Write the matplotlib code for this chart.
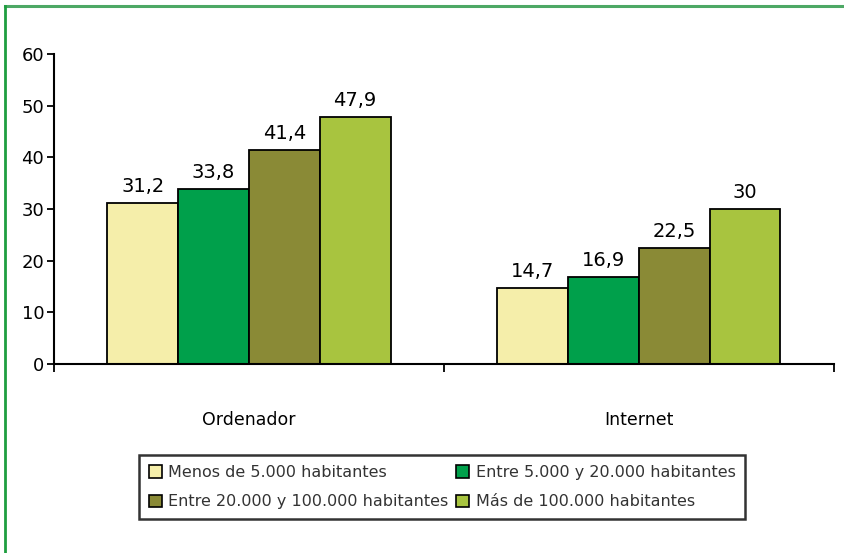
import numpy as np
import matplotlib.pyplot as plt
from matplotlib.patches import Patch
from matplotlib.lines import Line2D

# datos
categorias = ['Ordenador', 'Internet']
series = ['Menos de 5.000 habitantes', 'Entre 5.000 y 20.000 habitantes',
          'Entre 20.000 y 100.000 habitantes', 'Más de 100.000 habitantes']
menos_5000 = [31.2, 14.7]
de_5000_a_20000 = [33.8, 16.9]
de_20000_a_100000 = [41.4, 22.5]
mas_100000 = [47.9, 30]
etiquetas = [['31,2', '14,7'], ['33,8', '16,9'], ['41,4', '22,5'], ['47,9', '30']]

colores = ['#F5EEAA', '#00A04B', '#8A8A36', '#A8C43F']
valores = [menos_5000, de_5000_a_20000, de_20000_a_100000, mas_100000]

fig = plt.figure(figsize=(8.44, 5.53), dpi=100)
ax = fig.add_axes([0.064, 0.342, 0.924, 0.560])

ancho = 0.1815
x = np.arange(len(categorias)) + 0.5
for i, (v, c) in enumerate(zip(valores, colores)):
    pos = x + (i - 1.5) * ancho
    ax.bar(pos, v, width=ancho, color=c, edgecolor='black', linewidth=1.3, zorder=2)
    for p, val, txt in zip(pos, v, etiquetas[i]):
        ax.annotate(txt, (p, val), xytext=(0, 5), textcoords='offset points',
                    ha='center', va='bottom', fontsize=14)

ax.set_xlim(0, 2)
ax.set_ylim(0, 60)
ax.set_yticks(range(0, 61, 10))
ax.tick_params(axis='y', labelsize=13, length=5, width=1.3, direction='out', pad=2)

# marcas entre grupos y nombres de categoría
ax.set_xticks([0, 1, 2])
ax.set_xticklabels([])
ax.tick_params(axis='x', which='major', length=6, width=1.3, direction='out')
ax.set_xticks(x, categorias, minor=True)
ax.tick_params(axis='x', which='minor', length=0, pad=34, labelsize=12.5)

for s in ['top', 'right']:
    ax.spines[s].set_visible(False)
for s in ['left', 'bottom']:
    ax.spines[s].set_linewidth(1.5)

# leyenda en dos columnas, ordenada por filas
orden = [0, 2, 1, 3]
handles = [Patch(facecolor=colores[k], edgecolor='black', linewidth=1.2) for k in orden]
textos = [series[k] for k in orden]
leg = fig.legend(handles, textos, loc='center', bbox_to_anchor=(0.524, 0.119),
                 ncol=2, fontsize=11.5, frameon=True, fancybox=False,
                 edgecolor='black', handlelength=0.8, handleheight=0.8,
                 handletextpad=0.4, columnspacing=0.5, borderpad=0.6,
                 labelspacing=0.9)
leg.get_frame().set_linewidth(1.8)
for t in leg.get_texts():
    t.set_color('#333333')

# marco verde
fig.add_artist(Line2D([0.006, 1.0], [0.989, 0.989], transform=fig.transFigure,
                      color='#4DA865', linewidth=2.2))
fig.add_artist(Line2D([0.006, 0.006], [0.0, 0.989], transform=fig.transFigure,
                      color='#1E9E40', linewidth=2))

fig.savefig('out.png', dpi=100)
